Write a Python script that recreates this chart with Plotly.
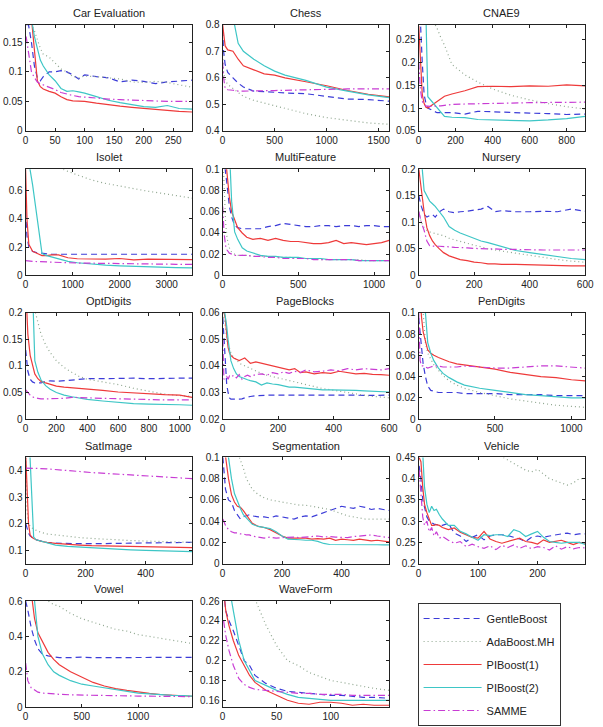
import plotly.graph_objects as go

W, H = 603, 727
FONT = "Liberation Sans, Arial, sans-serif"

SERIES = ["GentleBoost", "AdaBoost.MH", "PIBoost(1)", "PIBoost(2)", "SAMME"]
COLORS = ["#3c3cd8", "#8fa68f", "#ee3a3a", "#3ec6c6", "#c83cd4"]
DASHES = ["6px,4px", "1px,3px", "solid", "solid", "7px,3px,1.5px,3px"]

# ---------------- data ----------------
car_x = [1, 5, 10, 15, 20, 25, 30, 40, 50, 60, 70, 80, 90, 100, 120, 140, 160, 180, 200, 220, 240, 260, 282]
car_gentle = [0.18, 0.18, 0.15, 0.11, 0.09, 0.085, 0.092, 0.1, 0.1, 0.102, 0.1, 0.095, 0.088, 0.095, 0.092, 0.09, 0.083, 0.086, 0.084, 0.08, 0.083, 0.084, 0.086]
car_ada = [0.2, 0.19, 0.18, 0.17, 0.155, 0.14, 0.13, 0.125, 0.115, 0.105, 0.1, 0.092, 0.09, 0.093, 0.092, 0.09, 0.088, 0.083, 0.082, 0.084, 0.082, 0.078, 0.074]
car_pi1 = [0.2, 0.2, 0.19, 0.13, 0.085, 0.075, 0.071, 0.067, 0.064, 0.058, 0.053, 0.051, 0.051, 0.05, 0.047, 0.044, 0.042, 0.04, 0.038, 0.037, 0.035, 0.033, 0.032]
car_pi2 = [0.2, 0.2, 0.19, 0.16, 0.14, 0.12, 0.11, 0.095, 0.085, 0.072, 0.067, 0.068, 0.066, 0.064, 0.058, 0.052, 0.048, 0.045, 0.041, 0.04, 0.043, 0.038, 0.037]
car_samme = [0.16, 0.13, 0.1, 0.09, 0.083, 0.08, 0.078, 0.075, 0.07, 0.065, 0.062, 0.06, 0.058, 0.057, 0.055, 0.054, 0.053, 0.052, 0.052, 0.051, 0.05, 0.05, 0.05]

chess_x = [1, 10, 25, 50, 100, 150, 200, 300, 400, 500, 600, 800, 1000, 1200, 1400, 1600]
chess_gentle = [0.78, 0.7, 0.65, 0.62, 0.6, 0.58, 0.565, 0.55, 0.548, 0.545, 0.543, 0.54, 0.53, 0.52, 0.518, 0.512]
chess_ada = [0.7, 0.62, 0.59, 0.575, 0.56, 0.545, 0.53, 0.515, 0.505, 0.495, 0.485, 0.465, 0.45, 0.44, 0.43, 0.425]
chess_pi1 = [0.8, 0.76, 0.72, 0.705, 0.7, 0.67, 0.645, 0.63, 0.615, 0.61, 0.6, 0.585, 0.57, 0.552, 0.538, 0.528]
chess_pi2 = [0.9, 0.9, 0.9, 0.88, 0.83, 0.73, 0.7, 0.67, 0.645, 0.625, 0.61, 0.59, 0.565, 0.55, 0.536, 0.525]
chess_samme = [0.66, 0.6, 0.56, 0.555, 0.553, 0.55, 0.55, 0.55, 0.55, 0.552, 0.553, 0.555, 0.557, 0.558, 0.558, 0.558]

cnae_x = [1, 10, 20, 30, 40, 50, 60, 80, 100, 120, 140, 180, 250, 320, 400, 500, 600, 700, 800, 900]
cnae_gentle = [0.3, 0.29, 0.2, 0.13, 0.11, 0.1, 0.098, 0.094, 0.09, 0.09, 0.09, 0.09, 0.087, 0.093, 0.092, 0.09, 0.089, 0.088, 0.086, 0.087]
cnae_ada = [0.35, 0.35, 0.34, 0.33, 0.32, 0.31, 0.305, 0.29, 0.275, 0.255, 0.238, 0.196, 0.173, 0.157, 0.142, 0.128, 0.118, 0.11, 0.103, 0.098]
cnae_pi1 = [0.28, 0.2, 0.13, 0.11, 0.102, 0.1, 0.103, 0.108, 0.113, 0.12, 0.126, 0.131, 0.138, 0.147, 0.148, 0.147, 0.149, 0.148, 0.151, 0.149]
cnae_pi2 = [0.3, 0.3, 0.3, 0.3, 0.3, 0.125, 0.12, 0.11, 0.1, 0.09, 0.082, 0.08, 0.079, 0.075, 0.074, 0.073, 0.072, 0.074, 0.077, 0.082]
cnae_samme = [0.2, 0.14, 0.115, 0.108, 0.105, 0.104, 0.104, 0.104, 0.104, 0.105, 0.106, 0.108, 0.109, 0.11, 0.111, 0.111, 0.112, 0.112, 0.113, 0.113]

isolet_x = [1, 30, 70, 150, 250, 350, 450, 550, 700, 900, 1100, 1400, 1700, 2000, 2300, 2600, 2900, 3200, 3540]
isolet_gentle = [0.45, 0.28, 0.2, 0.17, 0.16, 0.155, 0.152, 0.15, 0.15, 0.15, 0.15, 0.15, 0.15, 0.15, 0.15, 0.15, 0.15, 0.15, 0.15]
isolet_ada = [0.9, 0.9, 0.88, 0.86, 0.84, 0.82, 0.8, 0.785, 0.76, 0.735, 0.71, 0.675, 0.65, 0.63, 0.61, 0.595, 0.58, 0.562, 0.546]
isolet_pi1 = [0.75, 0.4, 0.22, 0.17, 0.155, 0.14, 0.14, 0.145, 0.145, 0.125, 0.118, 0.115, 0.115, 0.12, 0.11, 0.115, 0.115, 0.11, 0.112]
isolet_pi2 = [0.8, 0.8, 0.8, 0.64, 0.4, 0.155, 0.14, 0.13, 0.115, 0.1, 0.09, 0.08, 0.073, 0.068, 0.064, 0.06, 0.058, 0.055, 0.053]
isolet_samme = [0.105, 0.105, 0.103, 0.1, 0.098, 0.096, 0.095, 0.094, 0.092, 0.09, 0.088, 0.086, 0.085, 0.084, 0.082, 0.081, 0.08, 0.079, 0.078]

mf_x = [1, 10, 20, 30, 45, 60, 80, 100, 130, 160, 200, 250, 300, 350, 400, 450, 500, 550, 600, 650, 700, 750, 800, 850, 900, 950, 1000, 1050, 1100]
mf_gentle = [0.12, 0.11, 0.1, 0.085, 0.065, 0.055, 0.047, 0.045, 0.044, 0.044, 0.044, 0.044, 0.046, 0.047, 0.049, 0.048, 0.047, 0.046, 0.046, 0.047, 0.047, 0.046, 0.047, 0.047, 0.046, 0.047, 0.047, 0.046, 0.046]
mf_ada = [0.12, 0.09, 0.05, 0.035, 0.026, 0.022, 0.02, 0.019, 0.019, 0.019, 0.018, 0.018, 0.018, 0.017, 0.017, 0.017, 0.016, 0.016, 0.016, 0.015, 0.015, 0.015, 0.015, 0.015, 0.015, 0.014, 0.014, 0.014, 0.014]
mf_pi1 = [0.12, 0.12, 0.11, 0.095, 0.074, 0.06, 0.052, 0.045, 0.04, 0.036, 0.034, 0.035, 0.033, 0.035, 0.033, 0.032, 0.032, 0.031, 0.03, 0.03, 0.031, 0.033, 0.03, 0.031, 0.03, 0.029, 0.03, 0.031, 0.033]
mf_pi2 = [0.12, 0.12, 0.12, 0.12, 0.12, 0.07, 0.041, 0.034, 0.026, 0.023, 0.021, 0.019, 0.018, 0.018, 0.017, 0.017, 0.017, 0.016, 0.016, 0.016, 0.015, 0.015, 0.015, 0.015, 0.014, 0.014, 0.014, 0.014, 0.014]
mf_samme = [0.065, 0.04, 0.028, 0.024, 0.021, 0.02, 0.019, 0.019, 0.019, 0.019, 0.018, 0.018, 0.017, 0.017, 0.016, 0.016, 0.016, 0.016, 0.015, 0.015, 0.015, 0.015, 0.015, 0.015, 0.014, 0.014, 0.014, 0.014, 0.014]

nur_x = [1, 10, 20, 30, 40, 50, 60, 75, 90, 110, 130, 150, 175, 200, 225, 250, 275, 300, 350, 400, 450, 500, 550, 600]
nur_gentle = [0.15, 0.13, 0.115, 0.11, 0.113, 0.115, 0.11, 0.12, 0.125, 0.12, 0.118, 0.12, 0.121, 0.123, 0.125, 0.13, 0.12, 0.122, 0.12, 0.12, 0.121, 0.12, 0.125, 0.121]
nur_ada = [0.12, 0.1, 0.09, 0.085, 0.082, 0.08, 0.079, 0.077, 0.075, 0.07, 0.067, 0.064, 0.06, 0.057, 0.054, 0.05, 0.048, 0.046, 0.042, 0.037, 0.033, 0.03, 0.027, 0.025]
nur_pi1 = [0.2, 0.16, 0.12, 0.09, 0.075, 0.065, 0.058, 0.05, 0.043, 0.037, 0.033, 0.03, 0.028, 0.025, 0.024, 0.022, 0.022, 0.021, 0.021, 0.02, 0.02, 0.019, 0.018, 0.018]
nur_pi2 = [0.25, 0.22, 0.16, 0.15, 0.14, 0.135, 0.13, 0.12, 0.11, 0.092, 0.085, 0.08, 0.075, 0.07, 0.065, 0.062, 0.058, 0.054, 0.047, 0.043, 0.039, 0.035, 0.032, 0.03]
nur_samme = [0.12, 0.1, 0.085, 0.065, 0.056, 0.055, 0.055, 0.055, 0.054, 0.054, 0.053, 0.053, 0.052, 0.051, 0.05, 0.05, 0.05, 0.049, 0.049, 0.048, 0.048, 0.048, 0.048, 0.048]

opt_x = [1, 15, 30, 45, 60, 80, 100, 130, 160, 200, 250, 300, 350, 400, 500, 600, 700, 800, 900, 1000, 1080]
opt_gentle = [0.13, 0.09, 0.075, 0.07, 0.068, 0.068, 0.068, 0.071, 0.072, 0.071, 0.072, 0.074, 0.075, 0.076, 0.076, 0.077, 0.077, 0.076, 0.077, 0.077, 0.077]
opt_ada = [0.35, 0.3, 0.26, 0.23, 0.205, 0.18, 0.16, 0.14, 0.125, 0.11, 0.097, 0.088, 0.08, 0.075, 0.07, 0.065, 0.058, 0.052, 0.047, 0.044, 0.043]
opt_pi1 = [0.25, 0.16, 0.12, 0.1, 0.085, 0.076, 0.071, 0.068, 0.065, 0.062, 0.06, 0.059, 0.058, 0.057, 0.054, 0.051, 0.049, 0.047, 0.046, 0.045, 0.041]
opt_pi2 = [0.3, 0.3, 0.3, 0.25, 0.11, 0.088, 0.074, 0.063, 0.056, 0.05, 0.045, 0.042, 0.039, 0.037, 0.034, 0.031, 0.029, 0.028, 0.028, 0.027, 0.026]
opt_samme = [0.055, 0.05, 0.045, 0.042, 0.04, 0.039, 0.038, 0.038, 0.038, 0.039, 0.039, 0.041, 0.04, 0.04, 0.039, 0.038, 0.037, 0.036, 0.036, 0.036, 0.036]

pb_x = [1, 5, 10, 15, 20, 25, 30, 40, 50, 60, 70, 80, 90, 100, 120, 140, 160, 180, 200, 220, 240, 260, 280, 300, 330, 360, 390, 420, 450, 480, 510, 540, 570, 600]
pb_gentle = [0.058, 0.05, 0.04, 0.033, 0.03, 0.028, 0.0275, 0.0274, 0.0275, 0.0275, 0.0276, 0.028, 0.0283, 0.0285, 0.0288, 0.029, 0.029, 0.029, 0.029, 0.0292, 0.029, 0.029, 0.0292, 0.029, 0.0291, 0.029, 0.0292, 0.029, 0.0291, 0.029, 0.0289, 0.029, 0.029, 0.029]
pb_ada = [0.06, 0.058, 0.055, 0.05, 0.048, 0.046, 0.045, 0.043, 0.0425, 0.041, 0.0405, 0.04, 0.0395, 0.039, 0.038, 0.0372, 0.0365, 0.036, 0.0355, 0.035, 0.0345, 0.034, 0.0335, 0.033, 0.0322, 0.0315, 0.031, 0.0305, 0.03, 0.0295, 0.029, 0.0285, 0.0283, 0.028]
pb_pi1 = [0.062, 0.06, 0.058, 0.052, 0.047, 0.045, 0.044, 0.043, 0.0425, 0.042, 0.0425, 0.043, 0.042, 0.041, 0.0415, 0.041, 0.0405, 0.04, 0.0395, 0.039, 0.0385, 0.039, 0.0375, 0.0378, 0.037, 0.0375, 0.0372, 0.038, 0.0375, 0.037, 0.0372, 0.0368, 0.0367, 0.0365]
pb_pi2 = [0.065, 0.062, 0.06, 0.055, 0.05, 0.045, 0.042, 0.039, 0.037, 0.036, 0.0355, 0.035, 0.0348, 0.0345, 0.034, 0.0328, 0.0336, 0.0332, 0.033, 0.0325, 0.032, 0.032, 0.0318, 0.0315, 0.0313, 0.031, 0.031, 0.031, 0.0309, 0.0308, 0.0306, 0.0305, 0.0303, 0.0302]
pb_samme = [0.05, 0.035, 0.0355, 0.036, 0.035, 0.0362, 0.0358, 0.0365, 0.0355, 0.0368, 0.035, 0.036, 0.0365, 0.036, 0.0368, 0.037, 0.0365, 0.0375, 0.037, 0.0378, 0.0372, 0.038, 0.0375, 0.0385, 0.0378, 0.038, 0.0385, 0.0382, 0.039, 0.0385, 0.039, 0.0387, 0.0385, 0.039]

pen_x = [1, 10, 20, 30, 45, 60, 80, 100, 130, 160, 200, 250, 300, 400, 500, 600, 700, 800, 900, 1000, 1090]
pen_gentle = [0.095, 0.08, 0.062, 0.052, 0.04, 0.031, 0.027, 0.026, 0.025, 0.025, 0.025, 0.025, 0.024, 0.024, 0.024, 0.023, 0.023, 0.023, 0.022, 0.022, 0.022]
pen_ada = [0.14, 0.13, 0.12, 0.1, 0.072, 0.062, 0.056, 0.051, 0.046, 0.041, 0.036, 0.032, 0.029, 0.025, 0.022, 0.019, 0.017, 0.015, 0.013, 0.012, 0.011]
pen_pi1 = [0.13, 0.11, 0.095, 0.082, 0.072, 0.065, 0.062, 0.06, 0.058, 0.056, 0.054, 0.052, 0.051, 0.049, 0.047, 0.044, 0.042, 0.04, 0.039, 0.037, 0.036]
pen_pi2 = [0.14, 0.13, 0.12, 0.11, 0.1, 0.072, 0.062, 0.055, 0.048, 0.043, 0.039, 0.035, 0.032, 0.029, 0.027, 0.025, 0.023, 0.022, 0.021, 0.02, 0.02]
pen_samme = [0.1, 0.055, 0.05, 0.05, 0.049, 0.048, 0.049, 0.05, 0.05, 0.049, 0.049, 0.049, 0.05, 0.049, 0.048, 0.048, 0.049, 0.05, 0.05, 0.049, 0.048]

sat_x = [1, 5, 10, 15, 20, 27, 35, 50, 70, 100, 140, 180, 220, 260, 300, 350, 400, 450, 500, 555]
sat_gentle = [0.2, 0.18, 0.165, 0.155, 0.15, 0.145, 0.14, 0.135, 0.13, 0.127, 0.125, 0.125, 0.125, 0.125, 0.126, 0.127, 0.128, 0.129, 0.13, 0.13]
sat_ada = [0.45, 0.25, 0.2, 0.19, 0.185, 0.18, 0.175, 0.168, 0.162, 0.158, 0.152, 0.148, 0.145, 0.142, 0.14, 0.137, 0.135, 0.133, 0.131, 0.13]
sat_pi1 = [0.45, 0.3, 0.2, 0.16, 0.15, 0.145, 0.14, 0.135, 0.13, 0.126, 0.122, 0.12, 0.118, 0.117, 0.116, 0.115, 0.113, 0.112, 0.111, 0.11]
sat_pi2 = [0.5, 0.5, 0.5, 0.45, 0.3, 0.15, 0.14, 0.135, 0.128, 0.12, 0.115, 0.112, 0.109, 0.106, 0.104, 0.102, 0.1, 0.098, 0.096, 0.095]
sat_samme = [0.41, 0.41, 0.41, 0.41, 0.41, 0.41, 0.41, 0.408, 0.407, 0.405, 0.4, 0.397, 0.393, 0.39, 0.387, 0.384, 0.38, 0.376, 0.373, 0.37]

seg_x = [1, 10, 20, 30, 40, 50, 60, 70, 80, 90, 100, 120, 140, 160, 180, 200, 220, 240, 260, 280, 300, 320, 340, 360, 380, 400, 420, 440, 460, 480, 500, 520, 540, 560]
seg_gentle = [0.1, 0.07, 0.06, 0.058, 0.05, 0.046, 0.042, 0.044, 0.045, 0.046, 0.045, 0.044, 0.044, 0.043, 0.045, 0.044, 0.043, 0.042, 0.044, 0.045, 0.044, 0.046, 0.048, 0.05, 0.052, 0.054, 0.053, 0.052, 0.054, 0.053, 0.051, 0.052, 0.051, 0.05]
seg_ada = [0.15, 0.14, 0.13, 0.12, 0.11, 0.105, 0.098, 0.09, 0.08, 0.075, 0.07, 0.065, 0.062, 0.06, 0.059, 0.058, 0.057, 0.056, 0.055, 0.055, 0.054, 0.053, 0.052, 0.051, 0.049, 0.047, 0.045, 0.044, 0.043, 0.042, 0.042, 0.042, 0.042, 0.042]
seg_pi1 = [0.12, 0.1, 0.08, 0.065, 0.058, 0.054, 0.053, 0.05, 0.046, 0.042, 0.038, 0.035, 0.034, 0.032, 0.029, 0.026, 0.024, 0.024, 0.0245, 0.024, 0.023, 0.0235, 0.023, 0.024, 0.022, 0.023, 0.0225, 0.022, 0.023, 0.022, 0.0215, 0.022, 0.021, 0.0205]
seg_pi2 = [0.12, 0.12, 0.1, 0.08, 0.066, 0.058, 0.052, 0.046, 0.043, 0.04, 0.037, 0.035, 0.034, 0.033, 0.03, 0.026, 0.023, 0.023, 0.0225, 0.022, 0.022, 0.021, 0.019, 0.018, 0.018, 0.018, 0.0185, 0.018, 0.018, 0.0183, 0.018, 0.0178, 0.0177, 0.0176]
seg_samme = [0.042, 0.036, 0.032, 0.03, 0.029, 0.029, 0.028, 0.028, 0.027, 0.027, 0.026, 0.025, 0.024, 0.025, 0.024, 0.0245, 0.025, 0.025, 0.0245, 0.025, 0.025, 0.026, 0.025, 0.0255, 0.025, 0.025, 0.0245, 0.0255, 0.026, 0.026, 0.027, 0.026, 0.025, 0.0245]

veh_x = [1, 4, 7, 10, 14, 18, 22, 26, 30, 35, 40, 50, 60, 70, 80, 90, 100, 110, 120, 130, 140, 150, 160, 170, 180, 190, 200, 210, 220, 230, 240, 250, 260, 270, 280]
veh_gentle = [0.43, 0.4, 0.35, 0.33, 0.31, 0.3, 0.296, 0.293, 0.292, 0.29, 0.29, 0.295, 0.272, 0.265, 0.252, 0.262, 0.268, 0.256, 0.265, 0.268, 0.268, 0.266, 0.262, 0.258, 0.252, 0.262, 0.265, 0.262, 0.265, 0.268, 0.27, 0.272, 0.268, 0.27, 0.27]
veh_ada = [0.6, 0.6, 0.59, 0.58, 0.57, 0.56, 0.55, 0.54, 0.53, 0.52, 0.51, 0.5, 0.49, 0.48, 0.475, 0.47, 0.465, 0.46, 0.457, 0.455, 0.452, 0.444, 0.435, 0.428, 0.42, 0.416, 0.422, 0.41, 0.4, 0.395, 0.39, 0.385, 0.39, 0.4, 0.4]
veh_pi1 = [0.45, 0.44, 0.38, 0.34, 0.32, 0.303, 0.29, 0.29, 0.292, 0.29, 0.285, 0.28, 0.284, 0.274, 0.268, 0.262, 0.26, 0.276, 0.258, 0.252, 0.248, 0.252, 0.256, 0.26, 0.252, 0.25, 0.246, 0.256, 0.25, 0.252, 0.255, 0.25, 0.245, 0.25, 0.248]
veh_pi2 = [0.5, 0.48, 0.46, 0.38, 0.34, 0.32, 0.335, 0.325, 0.328, 0.315, 0.305, 0.29, 0.29, 0.276, 0.27, 0.262, 0.255, 0.268, 0.266, 0.268, 0.268, 0.264, 0.28, 0.275, 0.264, 0.27, 0.276, 0.262, 0.252, 0.25, 0.248, 0.25, 0.25, 0.25, 0.245]
veh_samme = [0.42, 0.36, 0.31, 0.29, 0.3, 0.275, 0.285, 0.265, 0.275, 0.26, 0.264, 0.255, 0.248, 0.252, 0.24, 0.246, 0.24, 0.236, 0.242, 0.233, 0.243, 0.238, 0.244, 0.236, 0.242, 0.235, 0.24, 0.238, 0.232, 0.242, 0.234, 0.24, 0.235, 0.238, 0.237]

vow_x = [1, 20, 50, 80, 110, 150, 200, 250, 300, 400, 500, 600, 700, 800, 900, 1000, 1100, 1200, 1300, 1400, 1480]
vow_gentle = [0.6, 0.55, 0.45, 0.38, 0.33, 0.3, 0.29, 0.285, 0.28, 0.28, 0.283, 0.28, 0.28, 0.282, 0.28, 0.28, 0.28, 0.282, 0.28, 0.28, 0.282]
vow_ada = [0.8, 0.75, 0.7, 0.67, 0.64, 0.62, 0.6, 0.58, 0.57, 0.53, 0.5, 0.48, 0.46, 0.44, 0.43, 0.41, 0.4, 0.39, 0.38, 0.37, 0.36]
vow_pi1 = [0.7, 0.7, 0.65, 0.5, 0.42, 0.37, 0.31, 0.27, 0.24, 0.2, 0.17, 0.14, 0.12, 0.105, 0.095, 0.085, 0.078, 0.072, 0.068, 0.065, 0.062]
vow_pi2 = [0.7, 0.7, 0.7, 0.6, 0.4, 0.3, 0.24, 0.2, 0.18, 0.15, 0.13, 0.12, 0.11, 0.1, 0.09, 0.08, 0.075, 0.07, 0.067, 0.065, 0.063]
vow_samme = [0.25, 0.15, 0.11, 0.095, 0.085, 0.08, 0.077, 0.075, 0.073, 0.07, 0.068, 0.067, 0.066, 0.065, 0.064, 0.063, 0.062, 0.062, 0.061, 0.06, 0.06]

wf_x = [1, 3, 6, 10, 15, 20, 25, 30, 40, 50, 60, 70, 80, 90, 100, 110, 120, 130, 140, 154]
wf_gentle = [0.27, 0.25, 0.24, 0.23, 0.215, 0.2, 0.195, 0.185, 0.177, 0.172, 0.169, 0.168, 0.167, 0.166, 0.165, 0.165, 0.164, 0.163, 0.163, 0.162]
wf_ada = [0.3, 0.3, 0.3, 0.3, 0.3, 0.29, 0.275, 0.262, 0.236, 0.215, 0.2, 0.195, 0.188, 0.184, 0.18, 0.178, 0.176, 0.174, 0.172, 0.17]
wf_pi1 = [0.27, 0.25, 0.235, 0.22, 0.205, 0.195, 0.185, 0.178, 0.17, 0.165, 0.16, 0.157, 0.156, 0.158, 0.158, 0.157, 0.155, 0.156, 0.155, 0.155]
wf_pi2 = [0.3, 0.29, 0.275, 0.25, 0.22, 0.2, 0.19, 0.18, 0.175, 0.17, 0.166, 0.163, 0.162, 0.161, 0.16, 0.16, 0.16, 0.16, 0.16, 0.16]
wf_samme = [0.24, 0.225, 0.21, 0.195, 0.182, 0.176, 0.173, 0.171, 0.17, 0.169, 0.168, 0.167, 0.167, 0.166, 0.166, 0.166, 0.165, 0.165, 0.165, 0.165]

# tick labels / ranges
car_xticks = [0, 50, 100, 150, 200, 250]
car_yticks = [0, 0.05, 0.1, 0.15]
chess_xticks = [0, 500, 1000, 1500]
chess_yticks = [0.4, 0.5, 0.6, 0.7, 0.8]
cnae_xticks = [0, 200, 400, 600, 800]
cnae_yticks = [0.05, 0.1, 0.15, 0.2, 0.25]
isolet_xticks = [0, 1000, 2000, 3000]
isolet_yticks = [0, 0.2, 0.4, 0.6]
mf_xticks = [0, 500, 1000]
mf_yticks = [0, 0.02, 0.04, 0.06, 0.08, 0.1]
nur_xticks = [0, 200, 400, 600]
nur_yticks = [0, 0.05, 0.1, 0.15, 0.2]
opt_xticks = [0, 200, 400, 600, 800, 1000]
opt_yticks = [0, 0.05, 0.1, 0.15, 0.2]
pb_xticks = [0, 200, 400, 600]
pb_yticks = [0.02, 0.03, 0.04, 0.05, 0.06]
pen_xticks = [0, 500, 1000]
pen_yticks = [0, 0.02, 0.04, 0.06, 0.08, 0.1]
sat_xticks = [0, 200, 400]
sat_yticks = [0.1, 0.2, 0.3, 0.4]
seg_xticks = [0, 200, 400]
seg_yticks = [0, 0.02, 0.04, 0.06, 0.08, 0.1]
veh_xticks = [0, 100, 200]
veh_yticks = [0.2, 0.25, 0.3, 0.35, 0.4, 0.45]
vow_xticks = [0, 500, 1000]
vow_yticks = [0, 0.2, 0.4, 0.6]
wf_xticks = [0, 50, 100]
wf_yticks = [0.16, 0.18, 0.2, 0.22, 0.24, 0.26]

datasets = [
    ("Car Evaluation", car_x, [car_gentle, car_ada, car_pi1, car_pi2, car_samme], [0, 282], car_xticks, [0, 0.18], car_yticks),
    ("Chess", chess_x, [chess_gentle, chess_ada, chess_pi1, chess_pi2, chess_samme], [0, 1600], chess_xticks, [0.4, 0.8], chess_yticks),
    ("CNAE9", cnae_x, [cnae_gentle, cnae_ada, cnae_pi1, cnae_pi2, cnae_samme], [0, 900], cnae_xticks, [0.05, 0.283], cnae_yticks),
    ("Isolet", isolet_x, [isolet_gentle, isolet_ada, isolet_pi1, isolet_pi2, isolet_samme], [0, 3540], isolet_xticks, [0, 0.75], isolet_yticks),
    ("MultiFeature", mf_x, [mf_gentle, mf_ada, mf_pi1, mf_pi2, mf_samme], [0, 1100], mf_xticks, [0, 0.1], mf_yticks),
    ("Nursery", nur_x, [nur_gentle, nur_ada, nur_pi1, nur_pi2, nur_samme], [0, 600], nur_xticks, [0, 0.2], nur_yticks),
    ("OptDigits", opt_x, [opt_gentle, opt_ada, opt_pi1, opt_pi2, opt_samme], [0, 1080], opt_xticks, [0, 0.2], opt_yticks),
    ("PageBlocks", pb_x, [pb_gentle, pb_ada, pb_pi1, pb_pi2, pb_samme], [0, 600], pb_xticks, [0.02, 0.06], pb_yticks),
    ("PenDigits", pen_x, [pen_gentle, pen_ada, pen_pi1, pen_pi2, pen_samme], [0, 1090], pen_xticks, [0, 0.1], pen_yticks),
    ("SatImage", sat_x, [sat_gentle, sat_ada, sat_pi1, sat_pi2, sat_samme], [0, 555], sat_xticks, [0.05, 0.45], sat_yticks),
    ("Segmentation", seg_x, [seg_gentle, seg_ada, seg_pi1, seg_pi2, seg_samme], [0, 560], seg_xticks, [0, 0.1], seg_yticks),
    ("Vehicle", veh_x, [veh_gentle, veh_ada, veh_pi1, veh_pi2, veh_samme], [0, 280], veh_xticks, [0.2, 0.45], veh_yticks),
    ("Vowel", vow_x, [vow_gentle, vow_ada, vow_pi1, vow_pi2, vow_samme], [0, 1480], vow_xticks, [0, 0.6], vow_yticks),
    ("WaveForm", wf_x, [wf_gentle, wf_ada, wf_pi1, wf_pi2, wf_samme], [0, 154], wf_xticks, [0.153, 0.26], wf_yticks),
]

# ---------------- layout geometry (pixels) ----------------
COL_LEFT = [23, 224, 424]
COL_W = 170
ROW_TOP = [19, 166, 312, 459, 605]
ROW_H = 108


def fmt(v):
    s = ("%.4f" % v).rstrip("0").rstrip(".")
    return s if s else "0"


fig = go.Figure()
layout = {}
annotations = []
for i, (title, xs, ys, xr, xt, yr, yt) in enumerate(datasets):
    n = i + 1
    xa = "x" if n == 1 else "x%d" % n
    ya = "y" if n == 1 else "y%d" % n
    for s in range(5):
        fig.add_trace(go.Scatter(
            x=xs, y=ys[s], mode="lines", name=SERIES[s],
            legendgroup=SERIES[s], showlegend=(i == 0),
            line=dict(color=COLORS[s], width=1.2, dash=DASHES[s]),
            xaxis=xa, yaxis=ya, hoverinfo="skip"))
    r, c = divmod(i, 3)
    left = COL_LEFT[c]
    top = ROW_TOP[r]
    common = dict(showline=True, linecolor="#222", linewidth=1, mirror="ticks",
                  ticks="inside", ticklen=3, tickcolor="#222", tickwidth=1,
                  showgrid=False, zeroline=False, fixedrange=True,
                  tickfont=dict(size=10, color="#222", family=FONT))
    layout["xaxis%d" % n] = dict(domain=[left / W, (left + COL_W) / W], anchor=ya,
                                 range=xr, tickmode="array", tickvals=xt,
                                 ticktext=[fmt(v) for v in xt], **common)
    layout["yaxis%d" % n] = dict(domain=[1 - (top + ROW_H) / H, 1 - top / H], anchor=xa,
                                 range=yr, tickmode="array", tickvals=yt,
                                 ticktext=[fmt(v) for v in yt], **common)
    annotations.append(dict(text=title, xref="paper", yref="paper",
                            x=(left + COL_W / 2) / W, y=1 - (top - 12) / H,
                            xanchor="center", yanchor="middle", showarrow=False,
                            font=dict(size=11, color="#222", family=FONT)))

fig.update_layout(
    width=W, height=H, margin=dict(l=0, r=0, t=0, b=0),
    paper_bgcolor="white", plot_bgcolor="white",
    annotations=annotations,
    legend=dict(x=423 / W, y=1 - 607 / H, xanchor="left", yanchor="top",
                bordercolor="#333", borderwidth=1, bgcolor="white",
                font=dict(size=11, color="#222", family=FONT),
                traceorder="grouped", tracegroupgap=4, itemwidth=58,
                entrywidth=92, entrywidthmode="pixels"),
    **layout)

fig.write_html("out.html")
